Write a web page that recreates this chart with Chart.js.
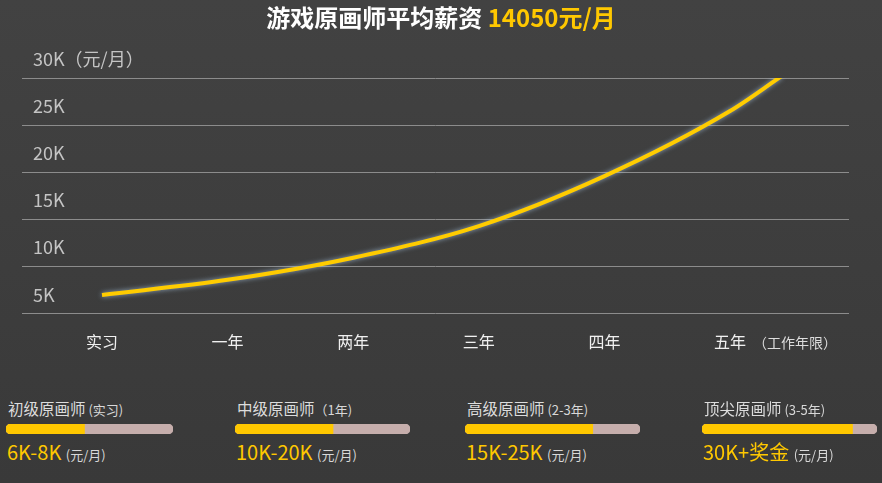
<!DOCTYPE html>
<html>
<head>
<meta charset="utf-8">
<script src="https://cdn.jsdelivr.net/npm/chart.js@4/dist/chart.umd.min.js"></script>
<style>
  html, body { margin: 0; padding: 0; }
  body {
    width: 882px; height: 483px; overflow: hidden; position: relative;
    background: linear-gradient(#424242, #393939);
    font-family: "Noto Sans CJK SC", sans-serif;
  }
  #title {
    position: absolute; top: 1px; left: 0; width: 882px; text-align: center;
    font-size: 24px; font-weight: bold; color: #fff; line-height: 32px;
  }
  #title span { color: #ffc800; }
  #main { position: absolute; left: 0; top: 0; }
  #unitX { position: absolute; left: 753px; top: 332px; font-size: 14px; color: #ddd; line-height: 20px; }
  .name { position: absolute; top: 397px; font-size: 15.5px; color: #ddd; line-height: 22px; white-space: nowrap; }
  .name small, .val small { font-size: 13px; color: #d8d8d8; }
  .bar { position: absolute; top: 424px; }
  .val { position: absolute; top: 438px; font-size: 20px; color: #ffc800; line-height: 28px; white-space: nowrap; }
</style>
</head>
<body>
<canvas id="main" width="882" height="380"></canvas>
<div id="title"></div>
<div id="unitX">（工作年限）</div>
<div id="levels"></div>
<script>
// 数据
const categories = ['实习', '一年', '两年', '三年', '四年', '五年'];
const curveX = [0, 1, 2, 3, 4, 5, 5.41];
const curveSalary = [7000, 8600, 10950, 14300, 19600, 26500, 30200];
const yTickLabels = ['5K', '10K', '15K', '20K', '25K', '30K（元/月）'];
const avgSalary = 14050;

const levels = ['初级原画师', '中级原画师', '高级原画师', '顶尖原画师'];
const levelYears = [' (实习)', '（1年)', ' (2-3年)', ' (3-5年)'];
const levelRanges = ['6K-8K', '10K-20K', '15K-25K', '30K+奖金'];
const levelProgress = [47, 56, 73, 86];

// 布局（像素）
const levelLeft = [6, 235, 465, 702];
const levelBarWidth = [167, 175, 175, 175];

Chart.defaults.font.family = "'Noto Sans CJK SC', sans-serif";

document.getElementById('title').innerHTML =
  '游戏原画师平均薪资 <span>' + avgSalary + '元/月</span>';

// 曲线发光
const glow = {
  id: 'glow',
  beforeDatasetDraw(chart) {
    const c = chart.ctx;
    c.save();
    c.shadowColor = 'rgba(170,200,230,0.75)';
    c.shadowBlur = 5;
  },
  afterDatasetDraw(chart) {
    chart.ctx.restore();
  }
};

new Chart(document.getElementById('main'), {
  type: 'line',
  data: {
    datasets: [{
      data: curveX.map((x, i) => ({ x: x, y: curveSalary[i] })),
      borderColor: '#ffcc00',
      borderWidth: 4,
      pointRadius: 0,
      cubicInterpolationMode: 'monotone',
      fill: false
    }]
  },
  options: {
    responsive: false,
    animation: false,
    events: [],
    layout: { padding: { top: 78, left: 0, right: 33, bottom: 9 } },
    plugins: { legend: { display: false }, tooltip: { enabled: false } },
    scales: {
      x: {
        type: 'linear',
        min: -0.637,
        max: 5.947,
        afterBuildTicks: s => { s.ticks = categories.map((c, i) => ({ value: i })); },
        grid: { display: false, drawTicks: false },
        border: { display: false },
        ticks: {
          padding: 19,
          color: '#f0f0f0',
          font: { size: 16 },
          maxRotation: 0,
          autoSkip: false,
          callback: v => categories[v]
        }
      },
      y: {
        min: 5000,
        max: 30000,
        grid: { color: '#8c8c8c', lineWidth: 1, drawTicks: false },
        border: { display: false },
        ticks: {
          stepSize: 5000,
          mirror: true,
          padding: 11,
          labelOffset: -19,
          color: '#c4c4c4',
          font: { size: 18 },
          callback: v => yTickLabels[Math.round(v / 5000) - 1]
        }
      }
    }
  },
  plugins: [glow]
});

// 底部薪资等级
const wrap = document.getElementById('levels');
levels.forEach((name, i) => {
  const left = levelLeft[i];
  const n = document.createElement('div');
  n.className = 'name';
  n.style.left = (left + 2) + 'px';
  n.innerHTML = name + '<small>' + levelYears[i] + '</small>';
  wrap.appendChild(n);

  const cv = document.createElement('canvas');
  cv.className = 'bar';
  cv.width = levelBarWidth[i];
  cv.height = 10;
  cv.style.left = left + 'px';
  wrap.appendChild(cv);

  const v = document.createElement('div');
  v.className = 'val';
  v.style.left = (left + 1) + 'px';
  v.innerHTML = levelRanges[i] + ' <small>(元/月)</small>';
  wrap.appendChild(v);

  new Chart(cv, {
    type: 'bar',
    data: {
      labels: [name],
      datasets: [
        { data: [levelProgress[i]], backgroundColor: '#ffc800', borderRadius: 5, borderSkipped: 'end' },
        { data: [100], backgroundColor: '#c6aeac', borderRadius: 5, borderSkipped: false }
      ]
    },
    options: {
      indexAxis: 'y',
      responsive: false,
      animation: false,
      events: [],
      datasets: { bar: { grouped: false, barPercentage: 1, categoryPercentage: 1 } },
      layout: { padding: 0 },
      plugins: { legend: { display: false }, tooltip: { enabled: false } },
      scales: {
        x: { display: false, min: 0, max: 100 },
        y: { display: false }
      }
    }
  });
});
</script>
</body>
</html>
